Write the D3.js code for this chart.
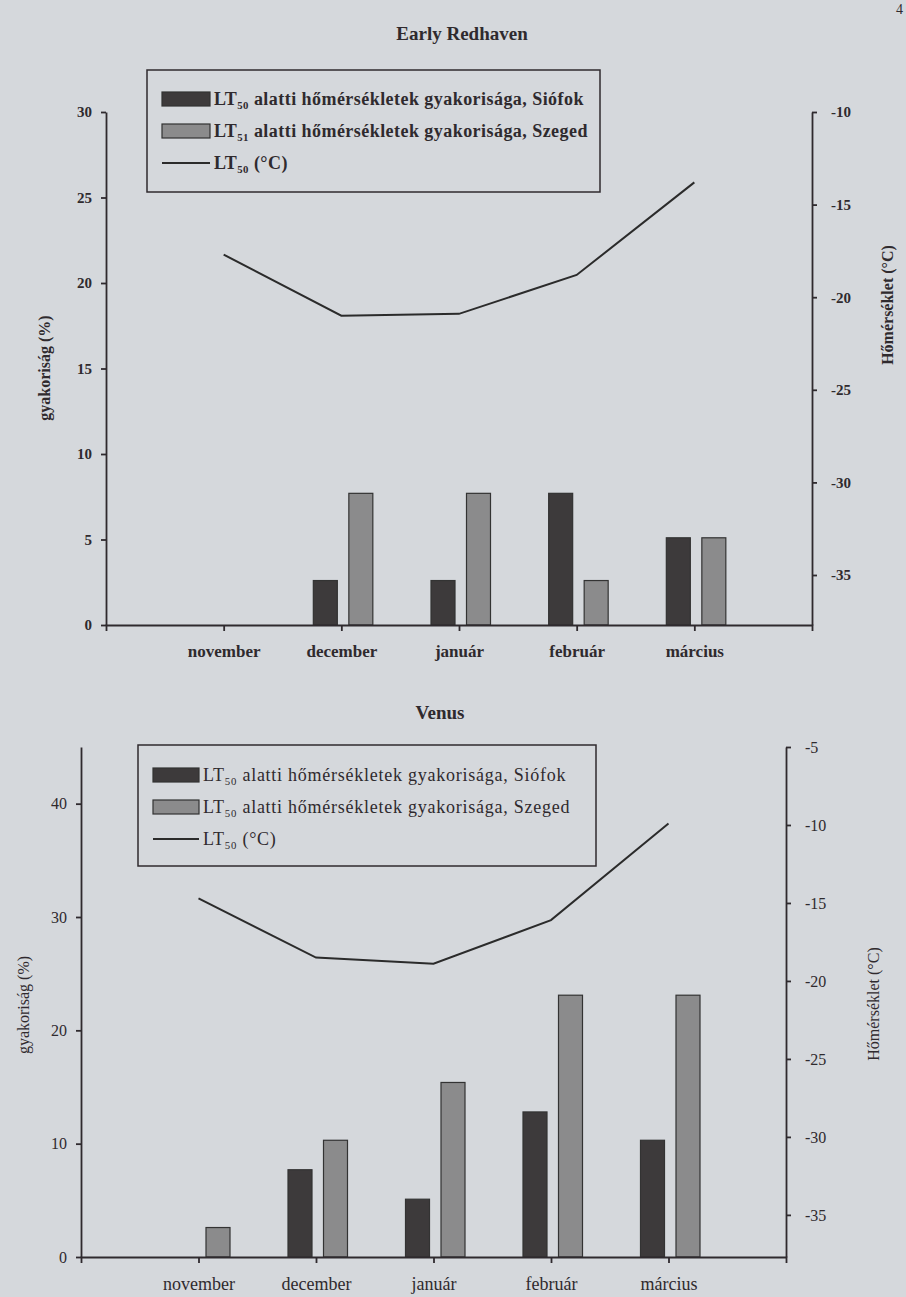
<!DOCTYPE html>
<html><head><meta charset="utf-8">
<script src="https://cdn.jsdelivr.net/npm/d3@7"></script>
<style>body{margin:0;background:#d5d8dc}svg{display:block}</style>
</head><body>
<script>
// ---- data ----
const months = ["november", "december", "január", "február", "március"];
const series = ["Siófok", "Szeged"];
const redhavenSiofok = [0, 2.6, 2.6, 7.7, 5.1];
const redhavenSzeged = [0, 7.7, 7.7, 2.6, 5.1];
const redhavenLT = [-17.7, -21.0, -20.9, -18.8, -13.8];
const venusSiofok = [0, 7.7, 5.1, 12.8, 10.3];
const venusSzeged = [2.6, 10.3, 15.4, 23.1, 23.1];
const venusLT = [-14.7, -18.5, -18.9, -16.1, -9.9];
const redhavenLeftTicks = [0, 5, 10, 15, 20, 25, 30];
const redhavenRightTicks = [-35, -30, -25, -20, -15, -10];
const venusLeftTicks = [0, 10, 20, 30, 40];
const venusRightTicks = [-35, -30, -25, -20, -15, -10, -5];
const legendTexts = [" alatti hőmérsékletek gyakorisága, Siófok", " alatti hőmérsékletek gyakorisága, Szeged", " (°C)"];

const W = 906, H = 1297;
const FONT = "'Liberation Serif','Times New Roman',serif";
const INK = "#2f2a2e";
const DARK = "#3d3a3b", LIGHT = "#8b8b8c";

const svg = d3.select("body").append("svg").attr("width", W).attr("height", H)
  .style("font-family", FONT);
svg.append("rect").attr("width", W).attr("height", H).attr("fill", "#d5d8dc");
svg.append("text").attr("x", 896).attr("y", 14).attr("font-size", 14).attr("fill", INK).text("4");

function draw(cfg) {
  const g = svg.append("g");
  const fw = cfg.bold ? "bold" : "normal";
  const x = d3.scalePoint().domain(months).range([cfg.x0, cfg.x1]).padding(1);
  const inner = d3.scaleBand().domain(series).range([-28, 31.5]).paddingInner(0.324);
  const yL = d3.scaleLinear().domain(cfg.leftDomain).range([cfg.yB, cfg.yT]);
  const yR = d3.scaleLinear().domain(cfg.rightDomain).range([cfg.yB, cfg.yT]);

  // title
  g.append("text").attr("x", cfg.titleX).attr("y", cfg.titleY).attr("text-anchor", "middle")
    .attr("font-size", 19).attr("font-weight", "bold").attr("fill", INK).text(cfg.title);

  // bars
  const rows = months.map((m, i) => ({ m, vals: [cfg.siofok[i], cfg.szeged[i]] }));
  const grp = g.append("g").selectAll("g").data(rows).join("g")
    .attr("transform", d => `translate(${x(d.m)},0)`);
  grp.selectAll("rect").data(d => d.vals.map((v, j) => ({ s: series[j], v })))
    .join("rect")
    .attr("x", d => inner(d.s)).attr("width", inner.bandwidth())
    .attr("y", d => yL(d.v)).attr("height", d => yL(0) - yL(d.v))
    .attr("fill", d => d.s === "Siófok" ? DARK : LIGHT)
    .attr("stroke", "#333").attr("stroke-width", 1.2);

  // line
  const line = d3.line().x((d, i) => x(months[i])).y(d => yR(d));
  g.append("path").datum(cfg.lt).attr("d", line).attr("fill", "none")
    .attr("stroke", "#2b2b2b").attr("stroke-width", 2);

  // axes
  const left = g.append("g").attr("transform", `translate(${cfg.x0},0)`)
    .call(d3.axisLeft(yL).tickValues(cfg.leftTicks).tickSize(5).tickSizeOuter(0).tickPadding(9));
  const right = g.append("g").attr("transform", `translate(${cfg.x1},0)`)
    .call(d3.axisRight(yR).tickValues(cfg.rightTicks).tickFormat(d => String(d)).tickSize(5).tickSizeOuter(0).tickPadding(14));
  const bottom = g.append("g").attr("transform", `translate(0,${cfg.yB})`)
    .call(d3.axisBottom(x).tickSize(6).tickSizeOuter(6).tickPadding(14));
  [left, right, bottom].forEach(a => {
    a.selectAll("path,line").attr("stroke", INK).attr("stroke-width", 1.8);
    a.selectAll("text").attr("font-family", FONT).attr("font-weight", fw)
      .attr("fill", INK).attr("font-size", cfg.tickFont);
  });
  bottom.selectAll("text").attr("font-size", cfg.catFont);

  // axis titles
  g.append("text").attr("transform", `translate(${cfg.lTitleX},${cfg.lTitleY}) rotate(-90)`)
    .attr("text-anchor", "middle").attr("font-size", 16).attr("font-weight", fw).attr("fill", INK)
    .text("gyakoriság (%)");
  g.append("text").attr("transform", `translate(${cfg.rTitleX},${cfg.rTitleY}) rotate(-90)`)
    .attr("text-anchor", "middle").attr("font-size", 16).attr("font-weight", fw).attr("fill", INK)
    .text("Hőmérséklet (°C)");

  // legend
  const L = cfg.legend;
  g.append("rect").attr("x", L.x).attr("y", L.y).attr("width", L.w).attr("height", L.h)
    .attr("fill", "none").attr("stroke", INK).attr("stroke-width", 1.5);
  legendTexts.forEach((t, i) => {
    const cy = L.rows[i];
    if (i < 2) {
      g.append("rect").attr("x", L.sx).attr("y", cy - 7).attr("width", L.sw).attr("height", 14)
        .attr("fill", i === 0 ? DARK : LIGHT).attr("stroke", "#333").attr("stroke-width", 1.2);
    } else {
      g.append("line").attr("x1", L.sx).attr("x2", L.sx + L.sw).attr("y1", cy).attr("y2", cy)
        .attr("stroke", "#2b2b2b").attr("stroke-width", 2);
    }
    const tx = g.append("text").attr("x", L.tx).attr("y", cy + 6).attr("font-size", L.font)
      .attr("font-weight", fw).attr("fill", INK).attr("letter-spacing", L.ls);
    tx.append("tspan").text("LT");
    tx.append("tspan").attr("font-size", L.font * 0.6).attr("dy", 4).text(cfg.sub[i]);
    tx.append("tspan").attr("dy", -4).text(t);
  });
}

draw({
  title: "Early Redhaven", titleX: 462, titleY: 40, bold: true,
  siofok: redhavenSiofok, szeged: redhavenSzeged, lt: redhavenLT,
  sub: ["50", "51", "50"],
  leftDomain: [0, 30], leftTicks: redhavenLeftTicks,
  rightDomain: [-37.7, -10], rightTicks: redhavenRightTicks,
  x0: 106, x1: 812, yT: 112, yB: 625,
  tickFont: 15, catFont: 17,
  lTitleX: 50, lTitleY: 368, rTitleX: 893, rTitleY: 305,
  legend: { x: 147, y: 70, w: 453, h: 122, rows: [99, 131, 163], sx: 162, sw: 48, tx: 214, font: 18, ls: 0.45 }
});
draw({
  title: "Venus", titleX: 440, titleY: 719, bold: false,
  siofok: venusSiofok, szeged: venusSzeged, lt: venusLT,
  sub: ["50", "50", "50"],
  leftDomain: [0, 45], leftTicks: venusLeftTicks,
  rightDomain: [-37.7, -5], rightTicks: venusRightTicks,
  x0: 81, x1: 786, yT: 747, yB: 1257,
  tickFont: 16, catFont: 18,
  lTitleX: 29, lTitleY: 1005, rTitleX: 879, rTitleY: 1004,
  legend: { x: 138, y: 745, w: 458, h: 121, rows: [775, 807, 839], sx: 153, sw: 46, tx: 203, font: 18, ls: 0.75 }
});
</script>
</body></html>
